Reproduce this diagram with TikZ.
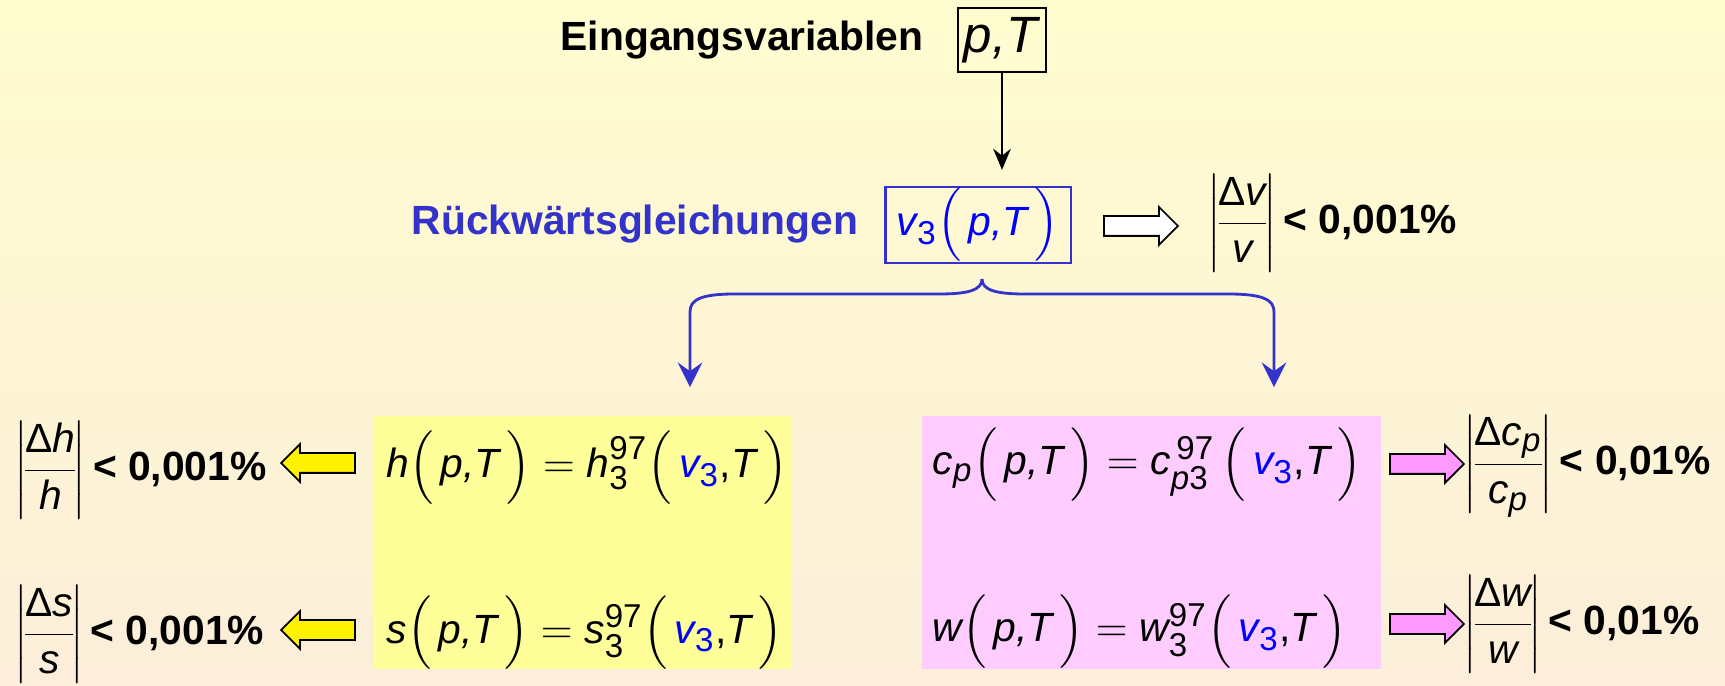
\documentclass[tikz,border=0pt]{standalone}
\usepackage{fontspec}
\setmainfont{Liberation Sans}
\usepackage{xcolor}
\usepackage{amsmath,amssymb}
\usepackage{tikz}
\usetikzlibrary{positioning,arrows.meta,calc,shapes.arrows}

\definecolor{bgtop}{HTML}{FFFDD0}
\definecolor{bgbot}{HTML}{FCEEDA}
\definecolor{rueckblue}{HTML}{3333CC}
\definecolor{vblue}{HTML}{0000FF}
\definecolor{hsfill}{HTML}{FFFF99}
\definecolor{cwfill}{HTML}{FFCCFF}
\definecolor{pinkarrow}{HTML}{FF99FF}

\DeclareMathSizes{11.6}{11.6}{9.4}{7}
\newcommand{\iv}[1]{\textit{#1}}
\newcommand{\dg}[1]{\text{#1}}
\newcommand{\relerr}[2]{{\nulldelimiterspace=0pt\left|\!\dfrac{\text{Δ}#1}{#2}\!\right|}}

\tikzset{
  every node/.style={font=\fontsize{11.6}{13.5}\selectfont},
  lbl/.style={font=\fontsize{11.6}{13.5}\selectfont\bfseries, inner sep=0pt},
  eqn/.style={inner sep=0pt, anchor=base west},
  errlbl/.style={inner sep=0pt, anchor=base west},
  blockarrow/.style={single arrow, draw=black, line width=0.5pt, inner xsep=0pt,
    inner ysep=0.09cm, single arrow head extend=0.09cm, minimum height=0.74cm},
  bracearr/.style={draw=rueckblue, line width=0.8pt, -{Stealth[length=7pt,width=7pt,inset=2.5pt]},
    shorten >=8pt}
}

\begin{document}
\begin{tikzpicture}[x=0.01cm, y=-0.01cm]
  \shade[top color=bgtop, bottom color=bgbot] (0,0) rectangle (1725,686);
  \useasboundingbox (0,0) rectangle (1725,686);

  % Eingangsvariablen
  \node[lbl, anchor=base west] (ein) at (560,51) {Eingangsvariablen};
  \node[draw, line width=0.6pt, minimum width=0.88cm, minimum height=0.64cm, inner sep=0pt,
    font=\fontsize{14.5}{16}\selectfont] (pT) at (1002,40) {\iv{p,T}};

  % Rueckwaertsgleichungen
  \node[lbl, anchor=base west, text=rueckblue] (rueck) at (411,235) {Rückwärtsgleichungen};
  \node[draw=rueckblue, line width=0.6pt, minimum width=1.85cm, minimum height=0.76cm,
    inner sep=0pt, text=vblue] (v3) at (978,225) {$\iv{v}_{\dg{3}}\Bigl(\,\iv{p,T}\,\Bigr)$};
  \draw[line width=0.7pt, -{Stealth[length=6pt,width=5pt]}, shorten >=0.16cm]
    (pT.south) -- (pT.south |- v3.north);

  \node[blockarrow, fill=white] (varr) at (1136,226) {};
  \node[errlbl] (verr) at (1207,234) {$\relerr{\iv{v}}{\iv{v}}$\,\textbf{< 0,001\%}};

  % Kaesten
  \node[fill=hsfill, minimum width=4.18cm, minimum height=2.53cm, inner sep=0pt] (hsbox) at (583,542.5) {};
  \node[fill=cwfill, minimum width=4.59cm, minimum height=2.53cm, inner sep=0pt] (cwbox) at (1151.5,542.5) {};

  % Klammer
  \coordinate (tip) at ($(v3.south)+(4,15)$);
  \draw[bracearr] (tip) .. controls (982,290) and (968,294) .. (940,294) -- (735,294)
    .. controls (700,294) and (690,300) .. (690,312) -- ($(hsbox.north)+(107,0)$);
  \draw[bracearr] (tip) .. controls (982,290) and (996,294) .. (1024,294) -- (1228,294)
    .. controls (1264,294) and (1274,300) .. (1274,312) -- ($(cwbox.north)+(122.5,0)$);

  % h und s
  \node[eqn] (heq) at (386,478) {$\iv{h}\Bigl(\,\iv{p,T}\,\Bigr) = \iv{h}_{\dg{3}}^{\dg{97}}\Bigl(\,\textcolor{vblue}{\iv{v}_{\dg{3}}}\text{,}\iv{T}\,\Bigr)$};
  \node[eqn] (seq) at (386,643) {$\iv{s}\Bigl(\,\iv{p,T}\,\Bigr) = \iv{s}_{\dg{3}}^{\dg{97}}\Bigl(\,\textcolor{vblue}{\iv{v}_{\dg{3}}}\text{,}\iv{T}\,\Bigr)$};
  \node[blockarrow, fill=yellow, shape border rotate=180] (harr) at (323,463) {};
  \node[blockarrow, fill=yellow, shape border rotate=180] (sarr) at (323,630) {};
  \node[errlbl] (herr) at (14,481) {$\relerr{\iv{h}}{\iv{h}}$\,\textbf{< 0,001\%}};
  \node[errlbl] (serr) at (14,645) {$\relerr{\iv{s}}{\iv{s}}$\,\textbf{< 0,001\%}};

  % cp und w
  \node[eqn] (cpeq) at (932,475) {$\iv{c}_{\iv{p}}\Bigl(\,\iv{p,T}\,\Bigr) = \iv{c}_{\iv{p}\dg{3}}^{\,\dg{97}}\,\Bigl(\,\textcolor{vblue}{\iv{v}_{\dg{3}}}\text{,}\iv{T}\,\Bigr)$};
  \node[eqn] (weq) at (932,642) {$\iv{w}\Bigl(\,\iv{p,T}\,\Bigr) = \iv{w}_{\dg{3}}^{\dg{97}}\Bigl(\,\textcolor{vblue}{\iv{v}_{\dg{3}}}\text{,}\iv{T}\,\Bigr)$};
  \node[blockarrow, fill=pinkarrow] (cparr) at (1422,464) {};
  \node[blockarrow, fill=pinkarrow] (warr) at (1422,624) {};
  \node[errlbl] (cperr) at (1463,475) {$\relerr{\iv{c}_{\iv{p}}}{\iv{c}_{\iv{p}}}$\,\textbf{< 0,01\%}};
  \node[errlbl] (werr) at (1463,635) {$\relerr{\iv{w}}{\iv{w}}$\,\textbf{< 0,01\%}};
\end{tikzpicture}
\end{document}
